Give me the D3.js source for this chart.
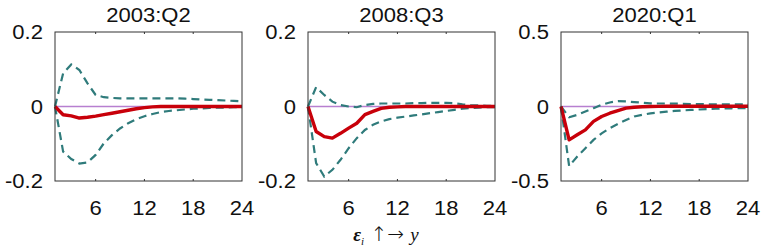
<!DOCTYPE html>
<html>
<head>
<meta charset="utf-8">
<script src="https://cdn.jsdelivr.net/npm/d3@7"></script>
<style>
  body { margin: 0; background: #fff; }
  text { font-family: "Liberation Sans", Arial, sans-serif; }
</style>
</head>
<body>
<div id="chart"></div>
<script>

// horizons (quarters)
var horizons = d3.range(1, 25);

var panelTitles = ["2003:Q2", "2008:Q3", "2020:Q1"];
var yLimits = [0.2, 0.2, 0.5];
var yTickLabels = [["-0.2", "0", "0.2"], ["-0.2", "0", "0.2"], ["-0.5", "0", "0.5"]];
var xTickValues = [6, 12, 18, 24];

// median responses
var median2003 = [0, -0.022, -0.025, -0.031, -0.029, -0.026, -0.022, -0.018, -0.014, -0.010, -0.006, -0.003,
  -0.001, 0, 0, 0, 0, 0, 0, 0, 0, 0, 0, 0];
var median2008 = [0, -0.067, -0.081, -0.085, -0.072, -0.058, -0.045, -0.022, -0.013, -0.005, -0.002, -0.001,
  0, 0, 0, 0, 0, 0, 0, 0, 0, 0, 0, 0];
var median2020 = [0, -0.224, -0.19, -0.157, -0.10, -0.067, -0.045, -0.027, -0.011, -0.005, -0.002, 0,
  0.001, 0.002, 0.002, 0.002, 0.002, 0.002, 0.002, 0.002, 0.002, 0.002, 0.002, 0.002];

// upper bands
var upper2003 = [0, 0.089, 0.113, 0.098, 0.062, 0.031, 0.025, 0.023, 0.022, 0.022, 0.022, 0.022,
  0.022, 0.022, 0.022, 0.022, 0.021, 0.020, 0.019, 0.018, 0.017, 0.016, 0.015, 0.014];
var upper2008 = [0, 0.052, 0.031, 0.013, 0.004, 0, -0.002, 0.004, 0.007, 0.008, 0.008, 0.008,
  0.008, 0.009, 0.009, 0.010, 0.010, 0.010, 0.009, 0.006, 0.004, 0.003, 0.002, 0.002];
var upper2020 = [0, -0.072, -0.056, -0.034, -0.011, 0.011, 0.027, 0.036, 0.034, 0.030, 0.025, 0.021,
  0.020, 0.020, 0.019, 0.018, 0.016, 0.016, 0.015, 0.015, 0.015, 0.015, 0.015, 0.015];

// lower bands
var lower2003 = [0, -0.121, -0.141, -0.153, -0.150, -0.130, -0.099, -0.077, -0.059, -0.045, -0.034, -0.026,
  -0.020, -0.015, -0.012, -0.010, -0.008, -0.006, -0.005, -0.004, -0.003, -0.003, -0.002, -0.002];
var lower2008 = [0, -0.152, -0.188, -0.170, -0.143, -0.112, -0.085, -0.063, -0.049, -0.040, -0.034, -0.030,
  -0.027, -0.024, -0.021, -0.018, -0.015, -0.012, -0.009, -0.006, -0.004, -0.003, -0.002, -0.002];
var lower2020 = [0, -0.40, -0.336, -0.28, -0.224, -0.18, -0.146, -0.117, -0.09, -0.067, -0.056, -0.046,
  -0.040, -0.035, -0.030, -0.026, -0.023, -0.020, -0.017, -0.015, -0.013, -0.012, -0.011, -0.010];

var medians = [median2003, median2008, median2020];
var uppers = [upper2003, upper2008, upper2020];
var lowers = [lower2003, lower2008, lower2020];

var panelLeft = [55, 308, 561];
var panelWidth = 187;
var panelTop = 32, panelHeight = 149;

// the source text looks a little wide, so stretch it horizontally
var stretch = 1.13;

var svg = d3.select("#chart").append("svg")
  .attr("width", 765)
  .attr("height", 250);

function label(g, x, y, anchor, txt) {
  return g.append("text")
    .attr("transform", "translate(" + x + "," + y + ") scale(" + stretch + ",1)")
    .attr("text-anchor", anchor)
    .style("font-size", "19.5px")
    .attr("fill", "#111")
    .text(txt);
}

panelTitles.forEach(function(title, i) {
  var g = svg.append("g")
    .attr("transform", "translate(" + panelLeft[i] + "," + panelTop + ")");

  var x = d3.scaleLinear().domain([1, 24]).range([0, panelWidth]);
  var y = d3.scaleLinear().domain([-yLimits[i], yLimits[i]]).range([panelHeight, 0]);

  // zero line
  g.append("line")
    .attr("x1", x(1)).attr("x2", x(24))
    .attr("y1", y(0)).attr("y2", y(0))
    .attr("stroke", "#b77fd0")
    .attr("stroke-width", 1.3);

  var line = d3.line()
    .x(function(d, k) { return x(horizons[k]); })
    .y(function(d) { return y(d); });

  // bands
  [uppers[i], lowers[i]].forEach(function(band) {
    g.append("path")
      .datum(band)
      .attr("d", line)
      .attr("fill", "none")
      .attr("stroke", "#2f7b7b")
      .attr("stroke-width", 2.2)
      .attr("stroke-dasharray", "8,5");
  });

  // median
  g.append("path")
    .datum(medians[i])
    .attr("d", line)
    .attr("fill", "none")
    .attr("stroke", "#c8000a")
    .attr("stroke-width", 3.4)
    .attr("stroke-linejoin", "round");

  // box
  g.append("rect")
    .attr("width", panelWidth)
    .attr("height", panelHeight)
    .attr("fill", "none")
    .attr("stroke", "#333")
    .attr("stroke-width", 1);

  // inward ticks, top and bottom
  xTickValues.slice(0, 3).forEach(function(v) {
    g.append("line").attr("x1", x(v)).attr("x2", x(v)).attr("y1", 0).attr("y2", 2)
      .attr("stroke", "#333");
    g.append("line").attr("x1", x(v)).attr("x2", x(v)).attr("y1", panelHeight).attr("y2", panelHeight - 2)
      .attr("stroke", "#333");
  });

  // x tick labels
  xTickValues.forEach(function(v) {
    label(g, x(v), panelHeight + 34, "middle", v);
  });

  // y tick labels
  var yVals = [-yLimits[i], 0, yLimits[i]];
  yVals.forEach(function(v, k) {
    label(g, -12, y(v) + 7, "end", yTickLabels[i][k]);
  });

  // title
  label(g, panelWidth / 2, -10, "middle", title);
});

// x label
var lab = svg.append("text")
  .attr("x", 386)
  .attr("y", 241)
  .attr("text-anchor", "middle")
  .style("font-family", "'Liberation Serif', 'DejaVu Serif', serif")
  .style("font-size", "19px")
  .attr("fill", "#111");
lab.append("tspan").style("font-style", "italic").style("font-weight", "bold").text("\u03b5");
lab.append("tspan").style("font-style", "italic").style("font-size", "11px").attr("dy", 4).text("i");
lab.append("tspan").attr("dy", -4).style("font-family", "'DejaVu Sans', sans-serif")
  .style("font-size", "20px").style("font-weight", "300").text(" \u2191\u2192 ");
lab.append("tspan").style("font-style", "italic").text("y");

</script>
</body>
</html>
